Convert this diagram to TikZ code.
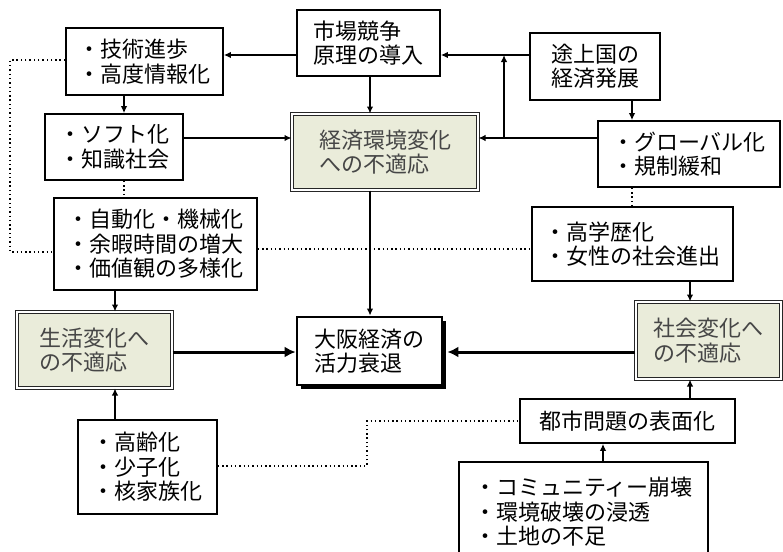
\documentclass[tikz,border=0pt]{standalone}
\usepackage{fontspec}
\setmainfont{Noto Sans CJK JP}
\usetikzlibrary{arrows.meta,shadows}
\definecolor{shade}{RGB}{234,236,218}
\definecolor{shadetext}{RGB}{70,70,70}
\begin{document}
\begin{tikzpicture}[x=1pt,y=-1pt,
  every node/.style={inner sep=0pt, align=left, font=\fontsize{22}{24.5}\selectfont},
  box/.style={draw, line width=1.7pt, fill=white},
  sbox/.style={draw=black!85, line width=1pt, double=white, double distance=2pt, fill=shade, text=shadetext},
  mainbox/.style={draw, line width=2.8pt, fill=white, drop shadow={shadow xshift=4pt, shadow yshift=-4pt, fill=black, opacity=1}},
  arr/.style={line width=1.4pt, -{Latex[length=7pt,width=6.5pt]}},
  bigarr/.style={line width=3pt, -{Latex[length=11pt,width=11pt]}},
  dots/.style={line width=1.7pt, dash pattern=on 1.4pt off 2.9pt}]
\useasboundingbox (0,0) rectangle (783,551);
\fill[white] (0,0) rectangle (783,551);

% helper rows / columns
\coordinate (r55) at (0,55);
\coordinate (r60) at (0,60);
\coordinate (r138) at (0,138);
\coordinate (r249) at (0,249);
\coordinate (r252) at (0,252);
\coordinate (r352) at (0,352);
\coordinate (r466) at (0,466);
\coordinate (c10) at (10,0);
\coordinate (c115) at (115,0);
\coordinate (c124) at (124,0);
\coordinate (c367) at (367,0);
\coordinate (c370) at (370,0);
\coordinate (c504) at (504,0);
\coordinate (c603) at (603,0);
\coordinate (c632) at (632,0);
\coordinate (c690) at (690,0);

% nodes
\node[box, minimum width=157pt, minimum height=67pt] (tech) at (144.5,61.5) {・技術進歩\\・高度情報化};
\node[box, minimum width=143pt, minimum height=66pt] (market) at (368.5,43) {市場競争\\原理の導入};
\node[box, minimum width=130pt, minimum height=67pt] (devel) at (595,66.5) {途上国の\\経済発展};
\node[box, minimum width=138pt, minimum height=66pt] (soft) at (114,147) {・ソフト化\\・知識社会};
\node[sbox, minimum width=186pt, minimum height=76pt] (econ) at (385,152) {経済環境変化\\への不適応};
\node[box, minimum width=182pt, minimum height=66pt] (glob) at (689,154) {・グローバル化\\・規制緩和};
\node[box, minimum width=203pt, minimum height=92pt] (auto) at (155.5,244) {・自動化・機械化\\・余暇時間の増大\\・価値観の多様化};
\node[box, minimum width=201pt, minimum height=74pt] (edu) at (632.5,244) {・高学歴化\\・女性の社会進出};
\node[sbox, minimum width=155pt, minimum height=76pt] (life) at (94.5,350) {生活変化へ\\の不適応};
\node[mainbox, minimum width=145pt, minimum height=68pt] (osaka) at (369.5,351) {大阪経済の\\活力衰退};
\node[sbox, minimum width=145pt, minimum height=77pt] (society) at (708,340.5) {社会変化へ\\の不適応};
\node[box, minimum width=139pt, minimum height=94pt] (aging) at (147.5,467) {・高齢化\\・少子化\\・核家族化};
\node[box, minimum width=215pt, minimum height=44pt] (urban) at (627.5,421) {都市問題の表面化};
\node[box, minimum width=249pt, minimum height=100pt] (comm) at (583.5,512) {・コミュニティー崩壊\\・環境破壊の浸透\\・土地の不足};

% solid connectors
\draw[arr] (market.west |- r55) -- (tech.east |- r55);
\draw[arr] (devel.west |- r55) -- (market.east |- r55);
\draw[arr] (glob.west |- r138) -- (econ.east |- r138);
\coordinate (j1) at (504,138);
\draw[arr] (j1) -- (c504 |- r55);
\draw[arr] (devel.south -| c632) -- (glob.north -| c632);
\draw[arr] (market.south -| c370) -- (econ.north -| c370);
\draw[arr] (tech.south -| c124) -- (soft.north -| c124);
\draw[arr] (soft.east |- r138) -- (econ.west |- r138);
\draw[arr] (auto.south -| c115) -- (life.north -| c115);
\draw[arr] (econ.south -| c370) -- (osaka.north -| c370);
\draw[arr] (edu.south -| c690) -- (society.north -| c690);
\draw[arr] (aging.north -| c115) -- (life.south -| c115);
\draw[arr] (urban.north -| c690) -- (society.south -| c690);
\draw[arr] (comm.north -| c603) -- (urban.south -| c603);
\draw[bigarr] (life.east |- r352) -- (osaka.west |- r352);
\draw[bigarr] (society.west |- r352) -- ([xshift=4pt]osaka.east |- r352);

% dotted connectors
\draw[dots] (soft.south -| c124) -- (auto.north -| c124);
\draw[dots] (tech.west |- r60) -- (c10 |- r60) -- (c10 |- r252) -- (auto.west |- r252);
\draw[dots] (auto.east |- r249) -- (edu.west |- r249);
\draw[dots] (glob.south -| c632) -- (edu.north -| c632);
\draw[dots] (aging.east |- r466) -- (c367 |- r466) -- (c367 |- urban.west) -- (urban.west);
\end{tikzpicture}
\end{document}
